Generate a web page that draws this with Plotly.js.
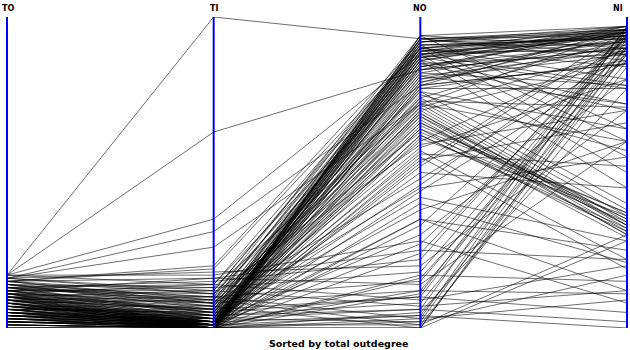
<!DOCTYPE html>
<html>
<head>
<meta charset="utf-8">
<script src="https://cdn.plot.ly/plotly-3.0.1.min.js"></script>
<style>html,body{margin:0;padding:0;background:#fff;}#chart{width:630px;height:350px;}</style>
</head>
<body>
<div id="chart"></div>
<script>
// Dimensions (parallel axes) and records, on a shared 0-100 scale
var dims = ["TO", "TI", "NO", "NI"];
var chartTitle = "Sorted by total outdegree";

var TO = [17,17,17,16,16,15,15,
  14,13,12,11,10,9,8,7,6,5,4,3,2,12,11,10,9,8,7,6,5,4,3,2,1,
  13,12,11,10,9,8,7,6,5,4,3,2,14,13,1,0,
  12,11,10,9,8,7,6,5,4,3,13,2,1,14,
  10,9,8,7,6,5,4,3,15,2,
  11,10,9,8,7,6,5,4,
  13,12,11,10,9,8,7,6,5,4,3,2,1,0,16,15,
  12,11,10,9,8,7,6,5,4,3,2,17,
  16,15,14,13,12,11,10,9,8,7,6,5,4,3,2,1,0,
  17,16,15,14,13,12,11,10,9,8,7,6,5,4,3,2,1,0];
var TI = [100,63,35,31,26,20,19,
  10,8,5,3,2,1,0,4,6,2,1,0,0,12,9,7,6,3,1,0,0,3,2,1,0,
  14,11,6,4,2,1,0,5,3,0,1,0,13,9,0,0,
  7,5,3,2,1,0,2,1,0,0,10,1,0,8,
  6,4,2,1,0,2,1,0,11,0,
  8,5,3,0,2,1,0,2,
  15,13,10,8,6,4,3,1,0,0,1,0,0,0,18,16,
  16,14,12,10,9,7,5,4,3,2,1,17,
  12,9,7,5,4,2,1,0,2,3,1,0,2,0,1,0,1,
  14,11,8,6,4,3,1,0,1,0,2,0,1,0,0,0,0,0];
var NO = [93,83,88,78,72,92,90,
  94,93,92,91,90,89,94,93,88,87,86,92,91,90,89,88,87,86,85,94,93,90,89,88,87,
  84,83,82,81,80,79,78,77,76,75,74,73,72,71,70,84,
  73,72,71,70,69,68,67,66,65,64,63,62,61,74,
  60,58,56,54,52,50,57,55,59,53,
  48,45,42,40,38,35,33,30,
  22,18,15,12,10,8,6,4,2,0,1,3,5,0,20,14,
  25,9,7,3,1,0,10,6,2,4,12,28,
  91,90,89,88,87,86,85,84,83,82,81,80,79,78,77,93,92,
  91,76,69,68,66,64,62,90,88,86,46,44,27,24,16,11,35,17];
var NI = [96,90,94,85,60,95,80,
  97,95,96,93,94,92,90,88,96,97,95,93,91,84,89,78,77,72,70,64,86,94,97,95,92,
  96,90,78,72,88,94,85,77,64,57,93,71,96,89,85,95,
  36,34,33,32,31,35,30,33,37,29,34,31,36,38,
  90,80,52,66,94,45,22,19,70,96,
  88,55,28,21,60,12,93,80,
  96,94,92,90,95,88,97,86,93,91,84,96,77,89,70,60,
  22,20,12,9,30,28,5,2,17,0,11,8,
  93,96,95,90,94,96,88,92,97,93,89,95,91,96,86,94,97,
  60,40,33,30,35,37,32,55,50,45,93,86,90,94,88,97,25,15];

// Build one polyline per record, separated by nulls
var xs = [], ys = [];
for (var i = 0; i < TO.length; i++) {
  var rec = [TO[i], TI[i], NO[i], NI[i]];
  for (var d = 0; d < dims.length; d++) { xs.push(d); ys.push(rec[d]); }
  xs.push(null); ys.push(null);
}

var traces = [{
  type: "scatter", mode: "lines", x: xs, y: ys,
  line: {color: "rgba(0,0,0,0.72)", width: 0.8},
  hoverinfo: "skip", showlegend: false, cliponaxis: false, connectgaps: false
}];

// blue vertical axis lines drawn above the records
for (var d = 0; d < dims.length; d++) {
  traces.push({type: "scatter", mode: "lines", x: [d, d], y: [0, 100],
    line: {color: "#0000ff", width: 2}, hoverinfo: "skip", showlegend: false, cliponaxis: false});
}

var pxPerUnit = 620 / 3;
var annotations = dims.map(function(name, d) {
  var last = d === dims.length - 1;
  return {xref: "x", yref: "paper", x: d, y: 1, yshift: 9, xshift: last ? -2 : 0,
          text: "<b>" + name + "</b>",
          showarrow: false, xanchor: last ? "right" : "center", yanchor: "middle",
          font: {family: "DejaVu Sans", size: 8, color: "#000"}};
});
annotations[0].xanchor = "left"; annotations[0].xshift = -7;
annotations.push({xref: "paper", yref: "paper", x: 0.537, y: 0, yshift: -15,
  text: "<b>" + chartTitle + "</b>", showarrow: false, xanchor: "center", yanchor: "middle",
  font: {family: "DejaVu Sans", size: 9.5, color: "#000"}});

var layout = {
  width: 630, height: 350,
  margin: {l: 0, r: 0, t: 17, b: 22, pad: 0},
  paper_bgcolor: "#fff", plot_bgcolor: "#fff",
  xaxis: {range: [-7 / pxPerUnit, 3 + 3 / pxPerUnit], visible: false, fixedrange: true},
  yaxis: {range: [0, 100], visible: false, fixedrange: true},
  annotations: annotations, showlegend: false
};

Plotly.newPlot("chart", traces, layout, {staticPlot: true, displayModeBar: false});
</script>
</body>
</html>
